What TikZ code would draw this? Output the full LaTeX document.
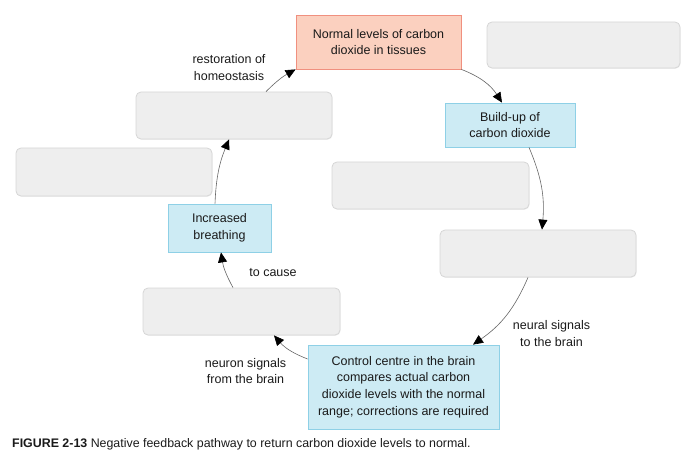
\documentclass[tikz,border=0pt]{standalone}
\usepackage{fontspec}
\setmainfont{Liberation Sans}
\usetikzlibrary{arrows.meta,shadows}
\definecolor{graybox}{HTML}{EEEEEE}
\definecolor{grayline}{HTML}{D6D6D6}
\definecolor{bluebox}{HTML}{CDEBF4}
\definecolor{blueline}{HTML}{8ED0E6}
\definecolor{pinkbox}{HTML}{FBD0BF}
\definecolor{pinkline}{HTML}{F0907F}
\definecolor{arrowline}{HTML}{666666}
\definecolor{txt}{HTML}{1A1A1A}
\begin{document}
\begin{tikzpicture}[x=1pt,y=-1pt,
  font=\fontsize{12.5}{16.7}\selectfont, text=txt,
  emptybox/.style={draw=grayline, fill=graybox, rounded corners=5pt, line width=0.8pt,
    drop shadow={opacity=0.12, shadow xshift=0.6pt, shadow yshift=-0.8pt}},
  bluenode/.style={draw=blueline, fill=bluebox, line width=0.8pt, align=center, inner sep=0pt},
  pinknode/.style={draw=pinkline, fill=pinkbox, line width=0.8pt, align=center, inner sep=0pt},
  lbl/.style={align=center, inner sep=0pt},
  flow/.style={draw=arrowline, line width=0.6pt, -{Triangle[length=10pt,width=9pt,fill=black,color=black]}}
]
\useasboundingbox (0,0) rectangle (698,470);
% boxes
\node[pinknode, minimum width=165pt, minimum height=54pt] (normal) at (378.5,42) {Normal levels of carbon\\dioxide in tissues};
\node[emptybox, minimum width=193pt, minimum height=46pt] (trgray) at (583.5,45) {};
\node[emptybox, minimum width=196pt, minimum height=47pt] (restgray) at (234,115.5) {};
\node[bluenode, minimum width=130pt, minimum height=44pt] (buildup) at (510,125) {Build-up of\\carbon dioxide};
\node[emptybox, minimum width=196pt, minimum height=48pt] (leftgray) at (114,172) {};
\node[emptybox, minimum width=197pt, minimum height=47pt] (midgray) at (430.5,185.5) {};
\node[bluenode, minimum width=103pt, minimum height=48pt] (breath) at (219.5,228) {Increased\\breathing};
\node[emptybox, minimum width=196pt, minimum height=47pt] (rightgray) at (538,253.5) {};
\node[emptybox, minimum width=197pt, minimum height=47pt] (blgray) at (241.5,311.5) {};
\node[bluenode, minimum width=191pt, minimum height=84pt] (control) at (403.5,387) {Control centre in the brain\\compares actual carbon\\dioxide levels with the normal\\range; corrections are required};
% labels
\node[lbl] (lrest) at (229,67.5) {restoration of\\homeostasis};
\node[lbl] (lcause) at (273,273) {to cause};
\node[lbl] (lneural) at (551.5,333.5) {neural signals\\to the brain};
\node[lbl] (lneuron) at (245.5,371) {neuron signals\\from the brain};
% connectors
\draw[flow] (normal.south east) to[bend left=18] ([xshift=-8pt]buildup.north);
\draw[flow] ([xshift=19pt]buildup.south) to[bend left=14] ([xshift=4pt]rightgray.north);
\draw[flow] ([xshift=-10pt]rightgray.south) to[bend left=16] ([xshift=69.5pt]control.north);
\draw[flow] ([yshift=28pt]control.west) to[bend left=14] ([xshift=32.5pt]blgray.south);
\draw[flow] ([xshift=-8.5pt]blgray.north) to[bend left=10] ([xshift=1.5pt]breath.south);
\draw[flow] ([xshift=-4.5pt]breath.north) to[bend left=10] ([xshift=-5pt]restgray.south);
\draw[flow] ([xshift=32pt]restgray.north) to[bend left=8] (normal.south west);
% caption
\node[anchor=west, inner sep=0pt, font=\fontsize{12.4}{14}\selectfont] (caption) at (12,444) {\textbf{FIGURE 2-13} Negative feedback pathway to return carbon dioxide levels to normal.};
\end{tikzpicture}
\end{document}
